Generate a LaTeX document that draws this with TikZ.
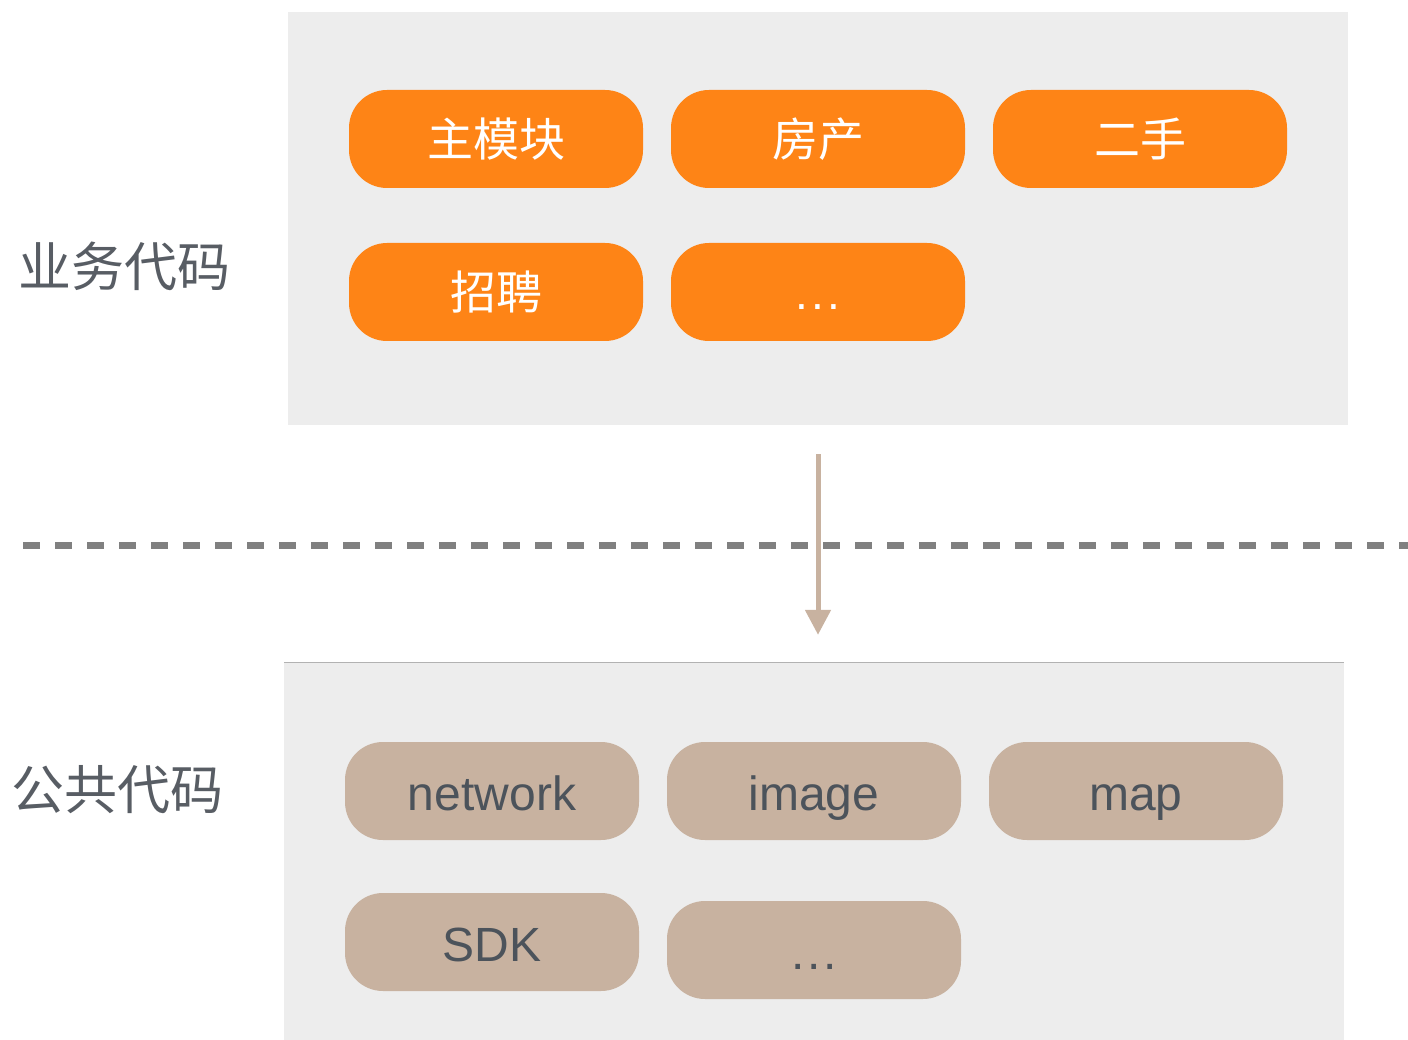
\documentclass[tikz,border=0pt]{standalone}
\usepackage{fontspec}
\setmainfont{Liberation Sans}
\newfontfamily\cjk{Noto Sans CJK SC}
\usetikzlibrary{arrows.meta}

\definecolor{panelgray}{HTML}{EDEDED}
\definecolor{bizorange}{HTML}{FE8416}
\definecolor{libtan}{HTML}{C8B2A0}
\definecolor{labelgray}{HTML}{585D64}
\definecolor{textgray}{HTML}{4C535B}
\definecolor{dashgray}{HTML}{808080}

\begin{document}
\begin{tikzpicture}[x=1pt, y=-1pt,
  panel/.style={fill=panelgray, draw=none, inner sep=0pt},
  modbox/.style={rounded corners=38pt, minimum width=294pt, minimum height=98pt,
    inner sep=0pt, text depth=0pt},
  bizbox/.style={modbox, fill=bizorange, text=white,
    font=\fontsize{46}{50}\selectfont\cjk, text height=35pt},
  libbox/.style={modbox, fill=libtan, text=textgray,
    font=\fontsize{48}{54}\selectfont, text height=39pt},
  layerlabel/.style={text=labelgray, font=\fontsize{53}{58}\selectfont\cjk,
    inner sep=0pt, text height=40pt, text depth=0pt},
  flow/.style={draw=libtan, line width=5pt,
    -{Triangle[width=25pt, length=25pt]}},
  divider/.style={draw=dashgray, line width=7pt, dash pattern=on 17pt off 15pt}
]
\useasboundingbox (0,0) rectangle (1408,1040);

% layer panels
\node[panel, minimum width=1060pt, minimum height=413pt] (biz) at (818,218.5) {};
\node[panel, minimum width=1060pt, minimum height=377pt] (base) at (814,851.5) {};
\draw[gray!60, line width=1pt] (base.north west) -- (base.north east);

% layer names
\node[layerlabel] (bizlabel) at (124,266.5) {业务代码};
\node[layerlabel] (baselabel) at (118,789) {公共代码};

% business modules
\node[bizbox] (main)  at (496,139) {主模块};
\node[bizbox] (house) at (818,139) {房产};
\node[bizbox] (used)  at (1140,139) {二手};
\node[bizbox] (jobs)  at (496,292) {招聘};
\node[bizbox] (bizmore) at (818,292) {\fontspec{Liberation Sans}.\hspace{3.5pt}.\hspace{3.5pt}.};

% shared libraries
\node[libbox] (network) at (492,791) {network};
\node[libbox] (image)   at (814,791) {image};
\node[libbox] (map)     at (1136,791) {map};
\node[libbox] (sdk)     at (492,942) {SDK};
\node[libbox] (libmore) at (814,950) {.\hspace{2.5pt}.\hspace{2.5pt}.};

% boundary between the layers
\coordinate (dl) at (23,545);
\coordinate (dr) at (1408,545);
\draw[divider] (dl) -- (dr);

% dependency direction
\draw[flow, shorten <=29pt, shorten >=28pt] (biz.south) -- (biz.south |- base.north);
\end{tikzpicture}
\end{document}
